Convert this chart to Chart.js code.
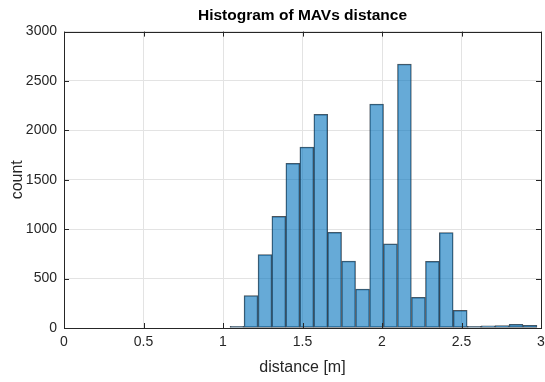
<!DOCTYPE html>
<html>
<head>
<meta charset="utf-8">
<script src="https://cdn.jsdelivr.net/npm/chart.js@4.4.1/dist/chart.umd.min.js"></script>
<style>
  html, body { margin: 0; padding: 0; background: #fff; }
  #wrap { width: 545px; height: 382px; }
</style>
</head>
<body>
<div id="wrap"><canvas id="hist"></canvas></div>
<script>
// bin centres (m) and counts
const binCenters = [1.088, 1.176, 1.264, 1.351, 1.439, 1.527, 1.615, 1.702, 1.790, 1.878, 1.966,
                    2.053, 2.141, 2.229, 2.317, 2.404, 2.492, 2.580, 2.668, 2.755, 2.843, 2.931];
const counts = [16, 327, 743, 1129, 1666, 1831, 2163, 969, 678, 394, 2267,
                851, 2670, 310, 675, 966, 178, 16, 23, 25, 37, 27];
const xTicks = [0, 0.5, 1, 1.5, 2, 2.5, 3];
const yTicks = [0, 500, 1000, 1500, 2000, 2500, 3000];

const FONT = '"Liberation Sans", Arial, Helvetica, sans-serif';
const AXIS = '#262626';

// box around the plot area, like matlab's "box on"
const boxPlugin = {
    id: 'box',
    afterDraw(chart) {
        const a = chart.chartArea, ctx = chart.ctx;
        ctx.save();
        ctx.strokeStyle = AXIS;
        ctx.lineWidth = 1;
        ctx.strokeRect(Math.round(a.left) + 0.5, Math.round(a.top) + 0.5,
                       Math.round(a.right - a.left), Math.round(a.bottom - a.top));
        // small inward ticks
        const xs = chart.scales.x, ys = chart.scales.y;
        ctx.beginPath();
        xTicks.forEach(v => {
            const px = Math.round(xs.getPixelForValue(v)) + 0.5;
            ctx.moveTo(px, a.bottom); ctx.lineTo(px, a.bottom - 5);
            ctx.moveTo(px, a.top); ctx.lineTo(px, a.top + 5);
        });
        yTicks.forEach(v => {
            const py = Math.round(ys.getPixelForValue(v)) + 0.5;
            ctx.moveTo(a.left, py); ctx.lineTo(a.left + 5, py);
            ctx.moveTo(a.right, py); ctx.lineTo(a.right - 5, py);
        });
        ctx.stroke();
        ctx.restore();
    }
};

new Chart(document.getElementById('hist').getContext('2d'), {
    type: 'bar',
    data: {
        datasets: [{
            data: binCenters.map((c, i) => ({ x: c, y: counts[i] })),
            backgroundColor: 'rgba(0, 114, 189, 0.6)',
            borderColor: 'rgba(30, 40, 50, 0.8)',
            borderWidth: 0.8,
            barPercentage: 1,
            categoryPercentage: 1,
            borderSkipped: false
        }]
    },
    options: {
        responsive: true, maintainAspectRatio: false,
        animation: false,
        layout: { padding: { left: 0, right: 0, top: 0, bottom: 0 } },
        scales: {
            x: {
                type: 'linear', min: 0, max: 3, offset: false,
                afterBuildTicks: s => { s.ticks = xTicks.map(v => ({ value: v })); },
                afterFit: s => { s.height = 54; s.paddingRight = 4; },
                ticks: { color: AXIS, font: { family: FONT, size: 14 }, padding: 6, maxRotation: 0,
                         callback: v => String(v) },
                grid: { color: '#e3e3e3', drawTicks: false, offset: false },
                border: { display: false },
                title: { display: true, text: 'distance [m]', color: AXIS,
                         font: { family: FONT, size: 16 }, padding: { top: 0, bottom: 5 } }
            },
            y: {
                min: 0, max: 3000,
                afterBuildTicks: s => { s.ticks = yTicks.map(v => ({ value: v })); },
                afterFit: s => { s.width = 64; },
                ticks: { color: AXIS, font: { family: FONT, size: 14 }, padding: 7,
                         callback: v => String(v) },
                grid: { color: '#e3e3e3', drawTicks: false },
                border: { display: false },
                title: { display: true, text: 'count', color: AXIS,
                         font: { family: FONT, size: 16 }, padding: { top: 8, bottom: 0 } }
            }
        },
        plugins: {
            legend: { display: false },
            tooltip: { enabled: false },
            title: {
                display: true, text: 'Histogram of MAVs distance', fullSize: false,
                color: '#000', font: { family: FONT, size: 15.5, weight: 'bold' },
                padding: { top: 6, bottom: 7 }
            }
        }
    },
    plugins: [boxPlugin]
});
</script>
</body>
</html>
